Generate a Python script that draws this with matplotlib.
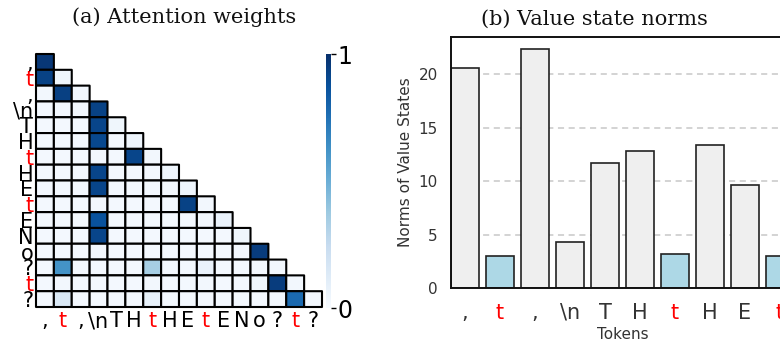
import numpy as np
import matplotlib
matplotlib.use("Agg")
import matplotlib.pyplot as plt

# ---------------- data ----------------
tokens = [",", "t", ",", "\\n", "T", "H", "t", "H", "E", "t", "E", "N", "o", "?", "t", "?"]
highlight = "t"

# lower-triangular attention weights (row i attends to columns 0..i)
attn_rows = [
    [0.97],
    [0.93, 0.04],
    [0.03, 0.94, 0.03],
    [0.02, 0.02, 0.03, 0.93],
    [0.02, 0.02, 0.02, 0.92, 0.04],
    [0.02, 0.02, 0.02, 0.91, 0.02, 0.05],
    [0.02, 0.02, 0.02, 0.03, 0.02, 0.92, 0.03],
    [0.02, 0.02, 0.02, 0.92, 0.02, 0.02, 0.02, 0.05],
    [0.02, 0.02, 0.02, 0.92, 0.02, 0.02, 0.02, 0.03, 0.05],
    [0.02, 0.02, 0.02, 0.03, 0.02, 0.02, 0.02, 0.02, 0.93, 0.03],
    [0.02, 0.02, 0.02, 0.87, 0.02, 0.02, 0.02, 0.02, 0.02, 0.03, 0.07],
    [0.02, 0.02, 0.02, 0.92, 0.02, 0.02, 0.02, 0.02, 0.02, 0.02, 0.02, 0.04],
    [0.02, 0.02, 0.02, 0.03, 0.02, 0.02, 0.02, 0.02, 0.02, 0.02, 0.02, 0.03, 0.95],
    [0.02, 0.62, 0.02, 0.02, 0.02, 0.02, 0.35, 0.02, 0.02, 0.07, 0.02, 0.02, 0.03, 0.03],
    [0.02, 0.03, 0.02, 0.02, 0.02, 0.02, 0.03, 0.02, 0.02, 0.03, 0.02, 0.02, 0.04, 0.95, 0.03],
    [0.02, 0.15, 0.02, 0.02, 0.02, 0.02, 0.08, 0.02, 0.02, 0.03, 0.02, 0.02, 0.02, 0.03, 0.78, 0.03],
]

bar_tokens = [",", "t", ",", "\\n", "T", "H", "t", "H", "E", "t"]
value_norms = [20.6, 3.03, 22.4, 4.28, 11.75, 12.8, 3.22, 13.4, 9.66, 3.0]

cbar_ticks = [0, 1]
norm_ticks = [0, 5, 10, 15, 20]

# ---------------- figure ----------------
W, H = 780, 345
fig = plt.figure(figsize=(W / 100, H / 100), dpi=100)


def fx(px):
    return px / W


def fy(px_from_top):
    return 1 - px_from_top / H


n = len(tokens)
A = np.full((n, n), np.nan)
for i, row in enumerate(attn_rows):
    A[i, :len(row)] = row
Am = np.ma.masked_invalid(A)

# (a) attention heatmap
ax1 = fig.add_axes([fx(36), fy(307), fx(286), (307 - 54) / H])
mesh = ax1.pcolor(np.arange(n + 1), np.arange(n + 1), Am, cmap="Blues",
                  vmin=0, vmax=1, edgecolors="black", linewidth=1.5)
mesh.set_clip_on(False)
ax1.set_xlim(0, n)
ax1.set_ylim(n, 0)
ax1.set_xticks(np.arange(n) + 0.5)
ax1.set_xticklabels(tokens)
ax1.set_yticks(np.arange(n) + 0.5)
ax1.set_yticklabels(tokens)
for sp in ax1.spines.values():
    sp.set_visible(False)
ax1.tick_params(axis="both", length=0, labelsize=15)
ax1.tick_params(axis="x", pad=3)
ax1.tick_params(axis="y", pad=2)
for lab in ax1.get_xticklabels() + ax1.get_yticklabels():
    lab.set_color("red" if lab.get_text() == highlight else "black")

# colorbar
cax = fig.add_axes([fx(326), fy(308), fx(5), (308 - 54) / H])
cb = fig.colorbar(mesh, cax=cax, ticks=cbar_ticks)
cb.outline.set_visible(False)
cax.tick_params(labelsize=17, length=3.6, width=1, pad=1)

fig.text(fx(184.5), fy(17), "(a) Attention weights", ha="center", va="center",
         family="DejaVu Serif", fontsize=15, color="#111111")

# (b) value state norms
nb = len(bar_tokens)
ax2 = fig.add_axes([fx(451), fy(288), fx(343), (288 - 37) / H])
x = np.arange(nb)
colors = ["#add8e6" if t == highlight else "#efefef" for t in bar_tokens]
ax2.bar(x, value_norms, width=0.8, color=colors, edgecolor="#222222",
        linewidth=1.2, zorder=2)
ax2.set_xlim(-0.4, nb - 0.6)
ax2.set_ylim(0, 23.5)
ax2.set_yticks(norm_ticks)
ax2.yaxis.grid(True, linestyle=(0, (4, 3)), color="#c8c8c8", linewidth=1.1)
ax2.set_axisbelow(True)
ax2.set_xticks(x)
ax2.set_xticklabels(bar_tokens)
ax2.tick_params(axis="x", length=0, labelsize=15, pad=10.5, labelcolor="#333333")
ax2.tick_params(axis="y", length=0, labelsize=11, pad=9.5, labelcolor="#333333")
for lab in ax2.get_xticklabels():
    if lab.get_text() == highlight:
        lab.set_color("red")
for sp in ax2.spines.values():
    sp.set_linewidth(1.4)
    sp.set_color("#111111")
ax2.set_ylabel("Norms of Value States", fontsize=11, color="#333333", labelpad=4)
ax2.set_xlabel("Tokens", fontsize=11, color="#333333", labelpad=3)

fig.text(fx(594), fy(19), "(b) Value state norms", ha="center", va="center",
         family="DejaVu Serif", fontsize=15, color="#111111")

fig.savefig("out.png", dpi=100)
